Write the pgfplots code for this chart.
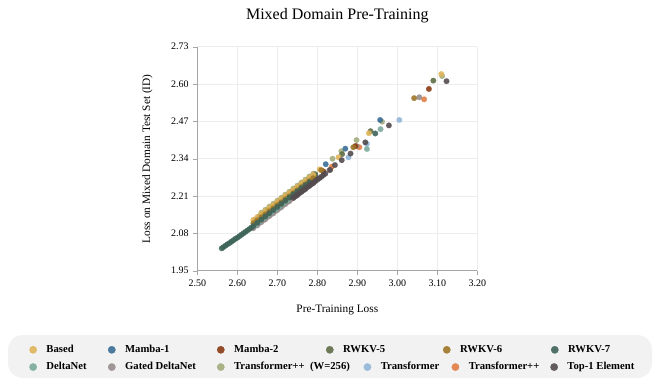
\documentclass[border=0pt]{standalone}
\usepackage{fontspec}
\setmainfont{Liberation Serif}
\usepackage{pgfplots}
\pgfplotsset{compat=1.18}

\definecolor{cBased}{RGB}{224,180,90}
\definecolor{cMambaA}{RGB}{58,110,150}
\definecolor{cMambaB}{RGB}{139,58,20}
\definecolor{cRwkvF}{RGB}{94,110,72}
\definecolor{cRwkvS}{RGB}{158,118,40}
\definecolor{cRwkvV}{RGB}{62,100,90}
\definecolor{cDelta}{RGB}{122,170,155}
\definecolor{cGated}{RGB}{150,140,140}
\definecolor{cTfW}{RGB}{163,173,125}
\definecolor{cTf}{RGB}{145,182,215}
\definecolor{cTfpp}{RGB}{226,124,68}
\definecolor{cTop}{RGB}{84,75,78}

\pgfplotsset{
  dot/.style={only marks, mark=*, mark size=2.1pt, color=#1,
    mark options={draw=#1, fill=#1, line width=0.1pt, opacity=0.9}},
  frame/.style={at={(148pt,84.2pt)}, anchor=south west,
    width=210pt, height=168pt, scale only axis,
    xmin=2.5, xmax=3.2, ymin=1.95, ymax=2.73},
  legrow/.style={legend columns=6,
    legend image code/.code={%
      \pgfpathrectangle{\pgfpoint{-3pt}{-3pt}}{\pgfpoint{11pt}{6pt}}\pgfusepath{use as bounding box}%
      \draw[##1, mark size=2.8pt] plot coordinates {(0pt,0pt)};},
    legend style={at={(axis description cs:-0.616,#1)}, anchor=west,
      draw=none, fill=none, font=\bfseries\fontsize{8}{9.5}\selectfont,
      cells={anchor=west}}},
}

\begin{document}
\begin{tikzpicture}
\useasboundingbox (0,0) rectangle (493.5pt,287.25pt);
\fill[black!5, rounded corners=11pt] (6pt,3.75pt) rectangle (489pt,36pt);
\begin{axis}[
  frame,
  xtick={2.5,2.6,2.7,2.8,2.9,3.0,3.1,3.2},
  ytick={1.95,2.08,2.21,2.34,2.47,2.60,2.73},
  /pgf/number format/.cd, fixed, fixed zerofill, precision=2, assume math mode=true,
  /pgfplots/.cd,
  tick label style={font=\fontsize{7.5}{9}\selectfont},
  axis x line*=bottom, axis y line*=left,
  axis line style={gray!70},
  tick style={gray!70},
  tick align=outside, major tick length=3pt,
  grid=major, grid style={gray!14, line width=0.4pt},
  title={Mixed Domain Pre-Training},
  title style={font=\fontsize{12}{14}\selectfont, at={(axis description cs:0.5,1)}, anchor=center, yshift=17pt},
  xlabel={Pre-Training Loss},
  xlabel style={font=\fontsize{8.5}{10}\selectfont, at={(axis description cs:0.5,-0.176)}, anchor=center},
  ylabel={Loss on Mixed Domain Test Set (ID)},
  ylabel style={font=\fontsize{8.5}{10}\selectfont, at={(axis description cs:-0.178,0.5)}, anchor=center},
]
% Transformer++
\addplot[dot=cTfpp] coordinates {
(2.655,2.116)(2.665,2.126)(2.675,2.137)(2.685,2.147)(2.695,2.158)(2.705,2.168)(2.715,2.179)(2.725,2.189)
(2.735,2.200)(2.745,2.210)(2.755,2.221)(2.765,2.231)(2.775,2.242)(2.785,2.252)(2.795,2.263)
(2.836,2.312)(2.905,2.380)(3.067,2.547)};
% Transformer
\addplot[dot=cTf] coordinates {
(2.645,2.106)(2.655,2.117)(2.665,2.127)(2.675,2.138)(2.685,2.148)(2.695,2.159)(2.705,2.169)(2.715,2.180)
(2.725,2.190)(2.735,2.201)(2.745,2.211)(2.755,2.222)(2.765,2.232)(2.775,2.243)(2.785,2.253)(2.795,2.264)
(2.878,2.345)(2.924,2.392)(3.005,2.475)};
% Gated DeltaNet
\addplot[dot=cGated] coordinates {
(2.64,2.098)(2.65,2.108)(2.66,2.119)(2.67,2.129)(2.68,2.140)(2.69,2.150)(2.70,2.161)(2.71,2.171)
(2.72,2.182)(2.73,2.192)(2.74,2.203)(2.75,2.213)(2.76,2.224)(2.77,2.234)(2.78,2.245)(2.79,2.255)
(2.83,2.300)(2.898,2.384)(3.055,2.554)};
% Mamba-2
\addplot[dot=cMambaB] coordinates {
(2.65,2.121)(2.66,2.132)(2.67,2.142)(2.68,2.153)(2.69,2.163)(2.70,2.174)(2.71,2.184)(2.72,2.195)
(2.73,2.205)(2.74,2.216)(2.75,2.226)(2.76,2.237)(2.77,2.247)(2.78,2.258)(2.79,2.268)
(2.815,2.296)(2.895,2.384)(3.079,2.583)};
% DeltaNet
\addplot[dot=cDelta] coordinates {
(2.645,2.111)(2.655,2.122)(2.665,2.132)(2.675,2.143)(2.685,2.153)(2.695,2.164)(2.705,2.174)(2.715,2.185)
(2.725,2.195)(2.735,2.206)(2.745,2.216)(2.755,2.227)(2.765,2.237)(2.775,2.248)(2.785,2.258)(2.795,2.269)
(2.924,2.374)(2.958,2.443)};
% Transformer++ (W=256)
\addplot[dot=cTfW] coordinates {
(2.66,2.152)(2.67,2.162)(2.68,2.173)(2.69,2.183)(2.70,2.194)(2.71,2.204)(2.72,2.215)(2.73,2.225)
(2.74,2.236)(2.75,2.246)(2.76,2.257)(2.77,2.267)(2.78,2.278)(2.79,2.288)
(2.838,2.340)(2.86,2.366)(2.898,2.405)(2.962,2.469)(3.112,2.628)};
% Mamba-1
\addplot[dot=cMambaA] coordinates {
(2.655,2.135)(2.665,2.145)(2.675,2.156)(2.685,2.166)(2.695,2.177)(2.705,2.187)(2.715,2.198)
(2.725,2.208)(2.735,2.219)(2.745,2.229)(2.755,2.240)(2.765,2.250)(2.775,2.261)(2.785,2.271)(2.795,2.282)
(2.821,2.321)(2.87,2.375)(2.957,2.475)};
% RWKV-5
\addplot[dot=cRwkvF] coordinates {
(2.645,2.128)(2.655,2.139)(2.665,2.149)(2.675,2.160)(2.685,2.170)(2.695,2.181)(2.705,2.191)(2.715,2.202)
(2.725,2.212)(2.735,2.223)(2.745,2.233)(2.755,2.244)(2.765,2.254)(2.775,2.265)(2.785,2.275)(2.795,2.286)
(2.862,2.356)(2.933,2.436)(3.09,2.612)};
% Based
\addplot[dot=cBased] coordinates {
(2.64,2.127)(2.65,2.137)(2.66,2.148)(2.67,2.158)(2.68,2.169)(2.69,2.179)(2.70,2.190)(2.71,2.200)
(2.72,2.211)(2.73,2.221)(2.74,2.232)(2.75,2.242)(2.76,2.253)(2.77,2.263)(2.78,2.274)(2.79,2.284)
(2.806,2.303)(2.853,2.345)(2.929,2.429)(3.11,2.635)};
% RWKV-6
\addplot[dot=cRwkvS] coordinates {
(2.64,2.115)(2.65,2.125)(2.66,2.136)(2.67,2.146)(2.68,2.157)(2.69,2.167)(2.70,2.178)(2.71,2.188)
(2.72,2.199)(2.73,2.209)(2.74,2.220)(2.75,2.230)(2.76,2.241)(2.77,2.251)(2.78,2.262)(2.79,2.272)
(2.81,2.300)(2.89,2.380)(3.042,2.551)};
% RWKV-7
\addplot[dot=cRwkvV] coordinates {
(2.561,2.028)(2.565,2.032)(2.570,2.037)(2.575,2.042)(2.580,2.046)(2.585,2.051)(2.590,2.056)(2.595,2.061)
(2.600,2.065)(2.605,2.070)(2.610,2.075)(2.615,2.080)(2.620,2.085)(2.625,2.090)(2.630,2.095)(2.635,2.100)
(2.640,2.106)(2.650,2.117)(2.660,2.128)(2.670,2.139)(2.680,2.150)(2.690,2.161)(2.700,2.172)(2.710,2.183)
(2.720,2.194)(2.730,2.205)(2.740,2.216)(2.750,2.226)(2.760,2.237)(2.770,2.247)(2.780,2.258)
(2.945,2.428)};
% Top-1 Element
\addplot[dot=cTop] coordinates {
(2.740,2.204)(2.745,2.209)(2.750,2.214)(2.755,2.220)(2.760,2.225)(2.765,2.230)(2.770,2.235)(2.775,2.241)
(2.780,2.246)(2.785,2.251)(2.790,2.256)(2.795,2.262)(2.800,2.267)(2.805,2.272)(2.810,2.277)(2.815,2.283)
(2.820,2.288)(2.832,2.301)(2.844,2.318)(2.861,2.335)(2.883,2.358)(2.920,2.397)(2.979,2.456)(3.123,2.610)};
\end{axis}
% legend, first row
\begin{axis}[frame, hide axis, legrow=-0.353]
\addlegendimage{dot=cBased}
\addlegendentry{\makebox[44pt][l]{Based}}
\addlegendimage{dot=cMambaA}
\addlegendentry{\makebox[66.75pt][l]{Mamba-1}}
\addlegendimage{dot=cMambaB}
\addlegendentry{\makebox[66.75pt][l]{Mamba-2}}
\addlegendimage{dot=cRwkvF}
\addlegendentry{\makebox[72.75pt][l]{RWKV-5}}
\addlegendimage{dot=cRwkvS}
\addlegendentry{\makebox[66pt][l]{RWKV-6}}
\addlegendimage{dot=cRwkvV}
\addlegendentry{RWKV-7}
\end{axis}
% legend, second row
\begin{axis}[frame, hide axis, legrow=-0.43]
\addlegendimage{dot=cDelta}
\addlegendentry{\makebox[44pt][l]{DeltaNet}}
\addlegendimage{dot=cGated}
\addlegendentry{\makebox[66.75pt][l]{Gated DeltaNet}}
\addlegendimage{dot=cTfW}
\addlegendentry{\makebox[95pt][l]{Transformer++\ \ (W=256)}}
\addlegendimage{dot=cTf}
\addlegendentry{\makebox[51pt][l]{Transformer}}
\addlegendimage{dot=cTfpp}
\addlegendentry{\makebox[59pt][l]{Transformer++}}
\addlegendimage{dot=cTop}
\addlegendentry{Top-1 Element}
\end{axis}
\end{tikzpicture}
\end{document}
